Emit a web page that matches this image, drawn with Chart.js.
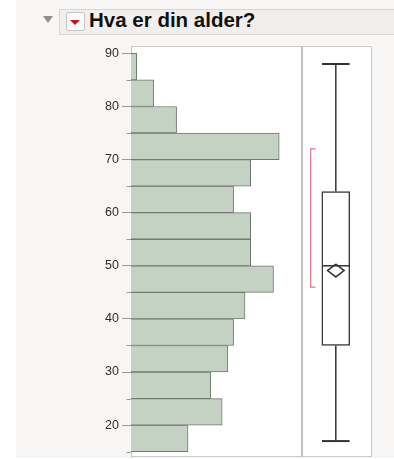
<!DOCTYPE html>
<html>
<head>
<meta charset="utf-8">
<script src="https://cdn.jsdelivr.net/npm/chart.js@4/dist/chart.umd.min.js"></script>
<style>
  html, body { margin: 0; padding: 0; background: #ffffff; }
  body { width: 394px; height: 459px; position: relative; overflow: hidden; font-family: "Liberation Sans", Arial, sans-serif; }
  #page { position: absolute; left: 16px; top: 0; width: 378px; height: 458px; background: #f8f6f5; }
  #bar { position: absolute; left: 59px; top: 9px; width: 345px; height: 24px; background: #f1efee;
         border: 1px solid #d8d5d3; }
  #disclose { position: absolute; left: 43px; top: 16px; width: 0; height: 0;
              border-left: 5px solid transparent; border-right: 5px solid transparent; border-top: 7px solid #8e8e8e; }
  #menu { position: absolute; left: 66px; top: 12px; width: 17px; height: 17px; background: #fbfbfb;
          border: 1px solid #c6c6c6; border-radius: 2px; }
  #menu::after { content: ""; position: absolute; left: 3px; top: 7px; width: 0; height: 0;
                 border-left: 5.5px solid transparent; border-right: 5.5px solid transparent; border-top: 5px solid #cc1022; }
  #title { position: absolute; left: 89px; top: 10px; font: bold 20.5px/20px "Liberation Sans", Arial, sans-serif; color: #111; white-space: nowrap; }
  #frame { position: absolute; left: 131px; top: 46px; width: 239px; height: 409px; background: #ffffff; border: 1px solid #cbcbcb; }
  #sep { position: absolute; left: 301px; top: 46px; width: 2px; height: 411px; background: #c2c2c2; }
  canvas { position: absolute; top: 0; }
  #hist { left: 0; }
  #box { left: 302px; }
</style>
</head>
<body>
<div id="page"></div>
<div id="bar"></div>
<div id="disclose"></div>
<div id="menu"></div>
<div id="title">Hva er din alder?</div>
<div id="frame"></div>
<div id="sep"></div>
<canvas id="hist" width="302" height="459"></canvas>
<canvas id="box" width="69" height="459"></canvas>
<script>
// Age distribution: 5-year bins (lower edge) and respondent counts
const binStarts = [15, 20, 25, 30, 35, 40, 45, 50, 55, 60, 65, 70, 75, 80, 85];
const binCounts = [10, 16, 14, 17, 18, 20, 25, 21, 21, 18, 21, 26, 8, 4, 1];
const binWidth = 5;

// Axis ticks
const majorTicks = [20, 30, 40, 50, 60, 70, 80, 90];
const minorTicks = [15, 25, 35, 45, 55, 65, 75, 85];

// Outlier box plot summary
const boxMin = 17;
const boxQ1 = 35;
const boxMedian = 50;
const boxQ3 = 64;
const boxMax = 88;
const meanValue = 49.1;
const meanCI = [47.9, 50.3];
const shortestHalf = [46, 72];

// Shared value range of the age axis
const ageMin = 14;
const ageMax = 91.2;

const FONT = '"Liberation Sans", Arial, sans-serif';

const minorTickPlugin = {
  id: 'minorTicks',
  afterDraw(chart) {
    const y = chart.scales.y;
    const left = chart.chartArea.left;
    const ctx = chart.ctx;
    ctx.save();
    ctx.strokeStyle = '#9a9a9a';
    ctx.lineWidth = 1;
    minorTicks.forEach(v => {
      const py = Math.round(y.getPixelForValue(v)) + 0.5;
      ctx.beginPath();
      ctx.moveTo(left - 4.5, py);
      ctx.lineTo(left, py);
      ctx.stroke();
    });
    ctx.restore();
  }
};

new Chart(document.getElementById('hist'), {
  type: 'bar',
  data: {
    datasets: [{
      data: binStarts.map((s, i) => ({ y: s + binWidth / 2, x: binCounts[i] })),
      backgroundColor: '#c4d2c4',
      borderColor: '#6f7a70',
      borderWidth: 1,
      barPercentage: 1,
      categoryPercentage: 1
    }]
  },
  options: {
    indexAxis: 'y',
    responsive: false,
    animation: false,
    events: [],
    layout: { padding: { top: 47, bottom: 2, left: 0, right: 0 } },
    plugins: { legend: { display: false }, tooltip: { enabled: false } },
    scales: {
      x: { type: 'linear', min: 0, max: 30, display: false },
      y: {
        type: 'linear',
        position: 'left',
        offset: false,
        min: ageMin,
        max: ageMax,
        afterFit(scale) {
          scale.width = 131;
          scale.paddingTop = 0;
          scale.paddingBottom = 0;
        },
        afterBuildTicks(scale) { scale.ticks = majorTicks.map(v => ({ value: v })); },
        ticks: {
          autoSkip: false,
          includeBounds: false,
          padding: 3,
          color: '#2e2e2e',
          font: { family: FONT, size: 12.5 },
          callback: v => String(v)
        },
        grid: { offset: false, drawOnChartArea: false, drawTicks: true, tickLength: 9, color: '#9a9a9a' },
        border: { display: true, color: '#c4c4c4' }
      }
    }
  },
  plugins: [minorTickPlugin]
});

// Box plot built from the summary values on a 0..1 horizontal slot
const cx = 0.49;
const capHalf = 0.2;
const diamondHalf = 0.12;
const bracketX = 0.126;
const bracketTick = 0.07;
const ink = '#333333';

function seg(points, color, width) {
  return {
    type: 'line',
    order: 0,
    data: points.map(p => ({ x: p[0], y: p[1] })),
    borderColor: color,
    borderWidth: width,
    pointRadius: 0,
    fill: false,
    tension: 0
  };
}

new Chart(document.getElementById('box'), {
  type: 'bar',
  data: {
    datasets: [
      {
        type: 'bar',
        order: 10,
        data: [{ x: cx, y: [boxQ1, boxQ3] }],
        backgroundColor: '#ffffff',
        borderColor: '#3a3a3a',
        borderWidth: 1.5,
        borderSkipped: false,
        barThickness: 28
      },
      seg([[cx, boxQ3], [cx, boxMax]], ink, 1.5),
      seg([[cx, boxQ1], [cx, boxMin]], ink, 1.5),
      seg([[cx - capHalf, boxMax], [cx + capHalf, boxMax]], ink, 2),
      seg([[cx - capHalf, boxMin], [cx + capHalf, boxMin]], ink, 2),
      seg([[cx - capHalf, boxMedian], [cx + capHalf, boxMedian]], ink, 1.5),
      seg([[cx, meanCI[1]], [cx + diamondHalf, meanValue], [cx, meanCI[0]], [cx - diamondHalf, meanValue], [cx, meanCI[1]]], ink, 1.5),
      seg([[bracketX + bracketTick, shortestHalf[1]], [bracketX, shortestHalf[1]], [bracketX, shortestHalf[0]], [bracketX + bracketTick, shortestHalf[0]]], '#e4708a', 1.2)
    ]
  },
  options: {
    responsive: false,
    animation: false,
    events: [],
    layout: { padding: { top: 47, bottom: 2, left: 0, right: 0 } },
    plugins: { legend: { display: false }, tooltip: { enabled: false } },
    scales: {
      x: { type: 'linear', offset: false, min: 0, max: 1, display: false },
      y: { type: 'linear', min: ageMin, max: ageMax, display: false }
    }
  }
});
</script>
</body>
</html>
